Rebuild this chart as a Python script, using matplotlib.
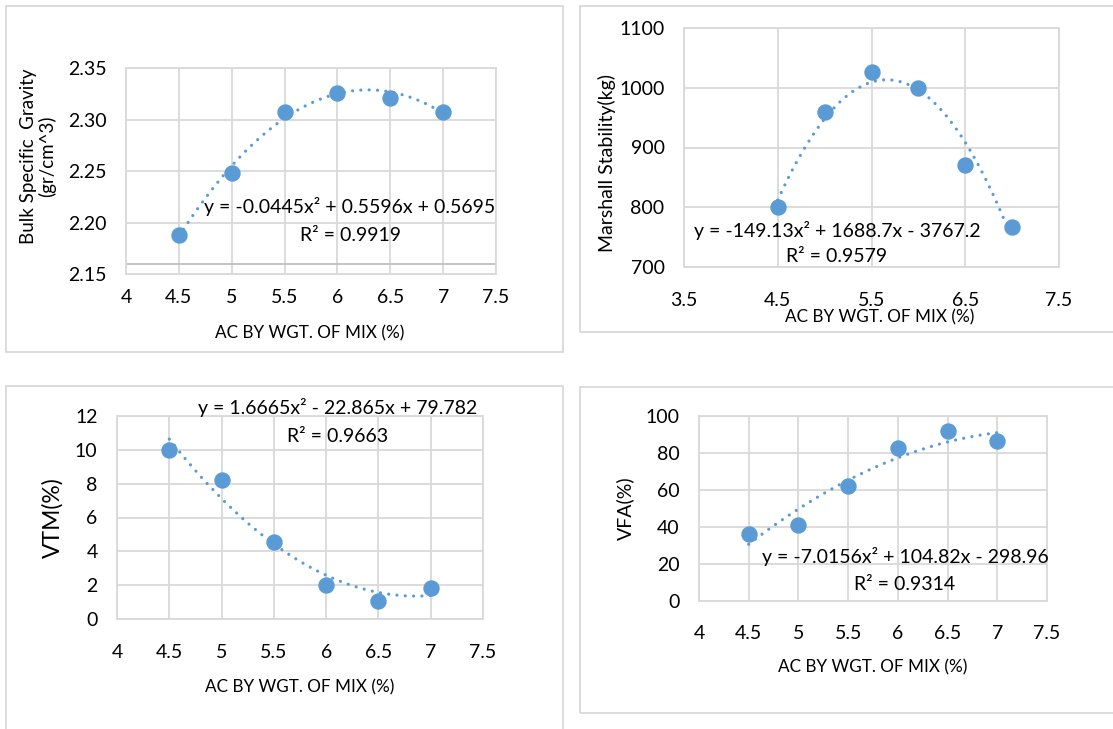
import matplotlib.pyplot as plt
import numpy as np
from matplotlib.patches import Rectangle

plt.rcParams['font.family'] = ['Lato', 'DejaVu Sans']

W, H = 1113, 729

# data
ac = [4.5, 5, 5.5, 6, 6.5, 7]
bulk_sg = [2.188, 2.248, 2.307, 2.326, 2.321, 2.307]
stability = [801, 959, 1026, 1000, 870, 767]
vtm = [10.0, 8.22, 4.54, 2.03, 1.06, 1.81]
vfa = [36.3, 41.2, 62.3, 82.9, 91.7, 86.6]

# trendline coefficients (as printed on the chart)
sg_fit = [-0.0445, 0.5596, 0.5695]
stab_fit = [-149.13, 1688.7, -3767.2]
vtm_fit = [1.6665, -22.865, 79.782]
vfa_fit = [-7.0156, 104.82, -298.96]

sg_eq = ['y = -0.0445x² + 0.5596x + 0.5695', 'R² = 0.9919']
stab_eq = ['y = -149.13x² + 1688.7x - 3767.2', 'R² = 0.9579']
vtm_eq = ['y = 1.6665x² - 22.865x + 79.782', 'R² = 0.9663']
vfa_eq = ['y = -7.0156x² + 104.82x - 298.96', 'R² = 0.9314']

xlab = 'AC BY WGT. OF MIX (%)'
blue = '#5B9BD5'
grid = '#D9D9D9'

fig = plt.figure(figsize=(W / 100, H / 100), dpi=100)


def fx(x):
    return x / W


def fy(y):
    return 1 - y / H


def box(x0, y0, x1, y1):
    fig.patches.append(Rectangle((fx(x0), fy(y1)), fx(x1) - fx(x0), fy(y0) - fy(y1),
                                 transform=fig.transFigure, fill=False,
                                 edgecolor=grid, lw=1.3))


def panel(rect, y, fit, eq, xlim, xticks, ylim, yticks, yfmt, ylab, ylab_size,
          xlab_pos, ylab_pos, eq_pos, xpad):
    l, t, r, b = rect
    ax = fig.add_axes([fx(l), fy(b), fx(r) - fx(l), fy(t) - fy(b)])
    ax.set_xlim(xlim)
    ax.set_ylim(ylim)
    ax.set_xticks(xticks)
    ax.set_yticks(yticks)
    ax.set_xticklabels(['%g' % v for v in xticks])
    ax.set_yticklabels([yfmt % v for v in yticks])
    ax.grid(True, color=grid, lw=1.3)
    ax.set_axisbelow(True)
    for s in ax.spines.values():
        s.set_color(grid)
        s.set_linewidth(1.3)
    ax.tick_params(length=0, labelsize=14)
    ax.tick_params(axis='y', pad=14)
    ax.tick_params(axis='x', pad=xpad)

    ax.plot(ac, y, 'o', color=blue, ms=10.8, zorder=3)
    xs = np.linspace(ac[0], ac[-1], 200)
    ax.plot(xs, np.polyval(fit, xs), color=blue, lw=2.3, dashes=(0.01, 2.6),
            dash_capstyle='round', zorder=4)

    ax.set_xlabel(xlab, fontsize=12.3)
    ax.xaxis.label.set_va('center')
    ax.xaxis.set_label_coords((xlab_pos[0] - l) / (r - l), (b - xlab_pos[1]) / (b - t))
    ax.set_ylabel(ylab, fontsize=ylab_size, linespacing=1.05)
    ax.yaxis.label.set_va('center')
    ax.yaxis.set_label_coords((ylab_pos[0] - l) / (r - l), (b - ylab_pos[1]) / (b - t))

    fig.text(fx(eq_pos[0]), fy(eq_pos[1]), eq[0], fontsize=14, ha='center', va='center')
    fig.text(fx(eq_pos[0]), fy(eq_pos[2]), eq[1], fontsize=14, ha='center', va='center')
    return ax


box(6, 6, 563, 352)
box(580, 6, 1125, 332)
box(6, 386, 563, 745)
box(580, 387, 1125, 713)

ax1 = panel((126, 68, 496, 274), bulk_sg, sg_fit, sg_eq, (4, 7.5), np.arange(4, 7.6, 0.5),
            (2.15, 2.35), np.arange(2.15, 2.351, 0.05), '%.2f',
            'Bulk Specific  Gravity\n(gr/cm^3)', 13.5, (310, 333), (38, 156), (350, 207, 235), 11)
ax1.axhline(2.16, color='#BFBFBF', lw=1.3, zorder=1)

panel((684, 28, 1059, 267), stability, stab_fit, stab_eq, (3.5, 7.5), np.arange(3.5, 7.6, 1),
      (700, 1100), np.arange(700, 1101, 100), '%d',
      'Marshall Stability(kg)', 14, (880, 317), (607, 163), (837, 230, 257), 18)

panel((117, 416, 483, 619), vtm, vtm_fit, vtm_eq, (4, 7.5), np.arange(4, 7.6, 0.5),
      (0, 12), np.arange(0, 12.1, 2), '%d',
      'VTM(%)', 16.5, (300, 687), (53, 518), (338, 407, 436), 18)

panel((699, 416, 1047, 601), vfa, vfa_fit, vfa_eq, (4, 7.5), np.arange(4, 7.6, 0.5),
      (0, 100), np.arange(0, 101, 20), '%d',
      'VFA(%)', 14, (873, 667), (625, 508), (905, 556, 584), 17.5)

fig.savefig('out.png', dpi=100)
